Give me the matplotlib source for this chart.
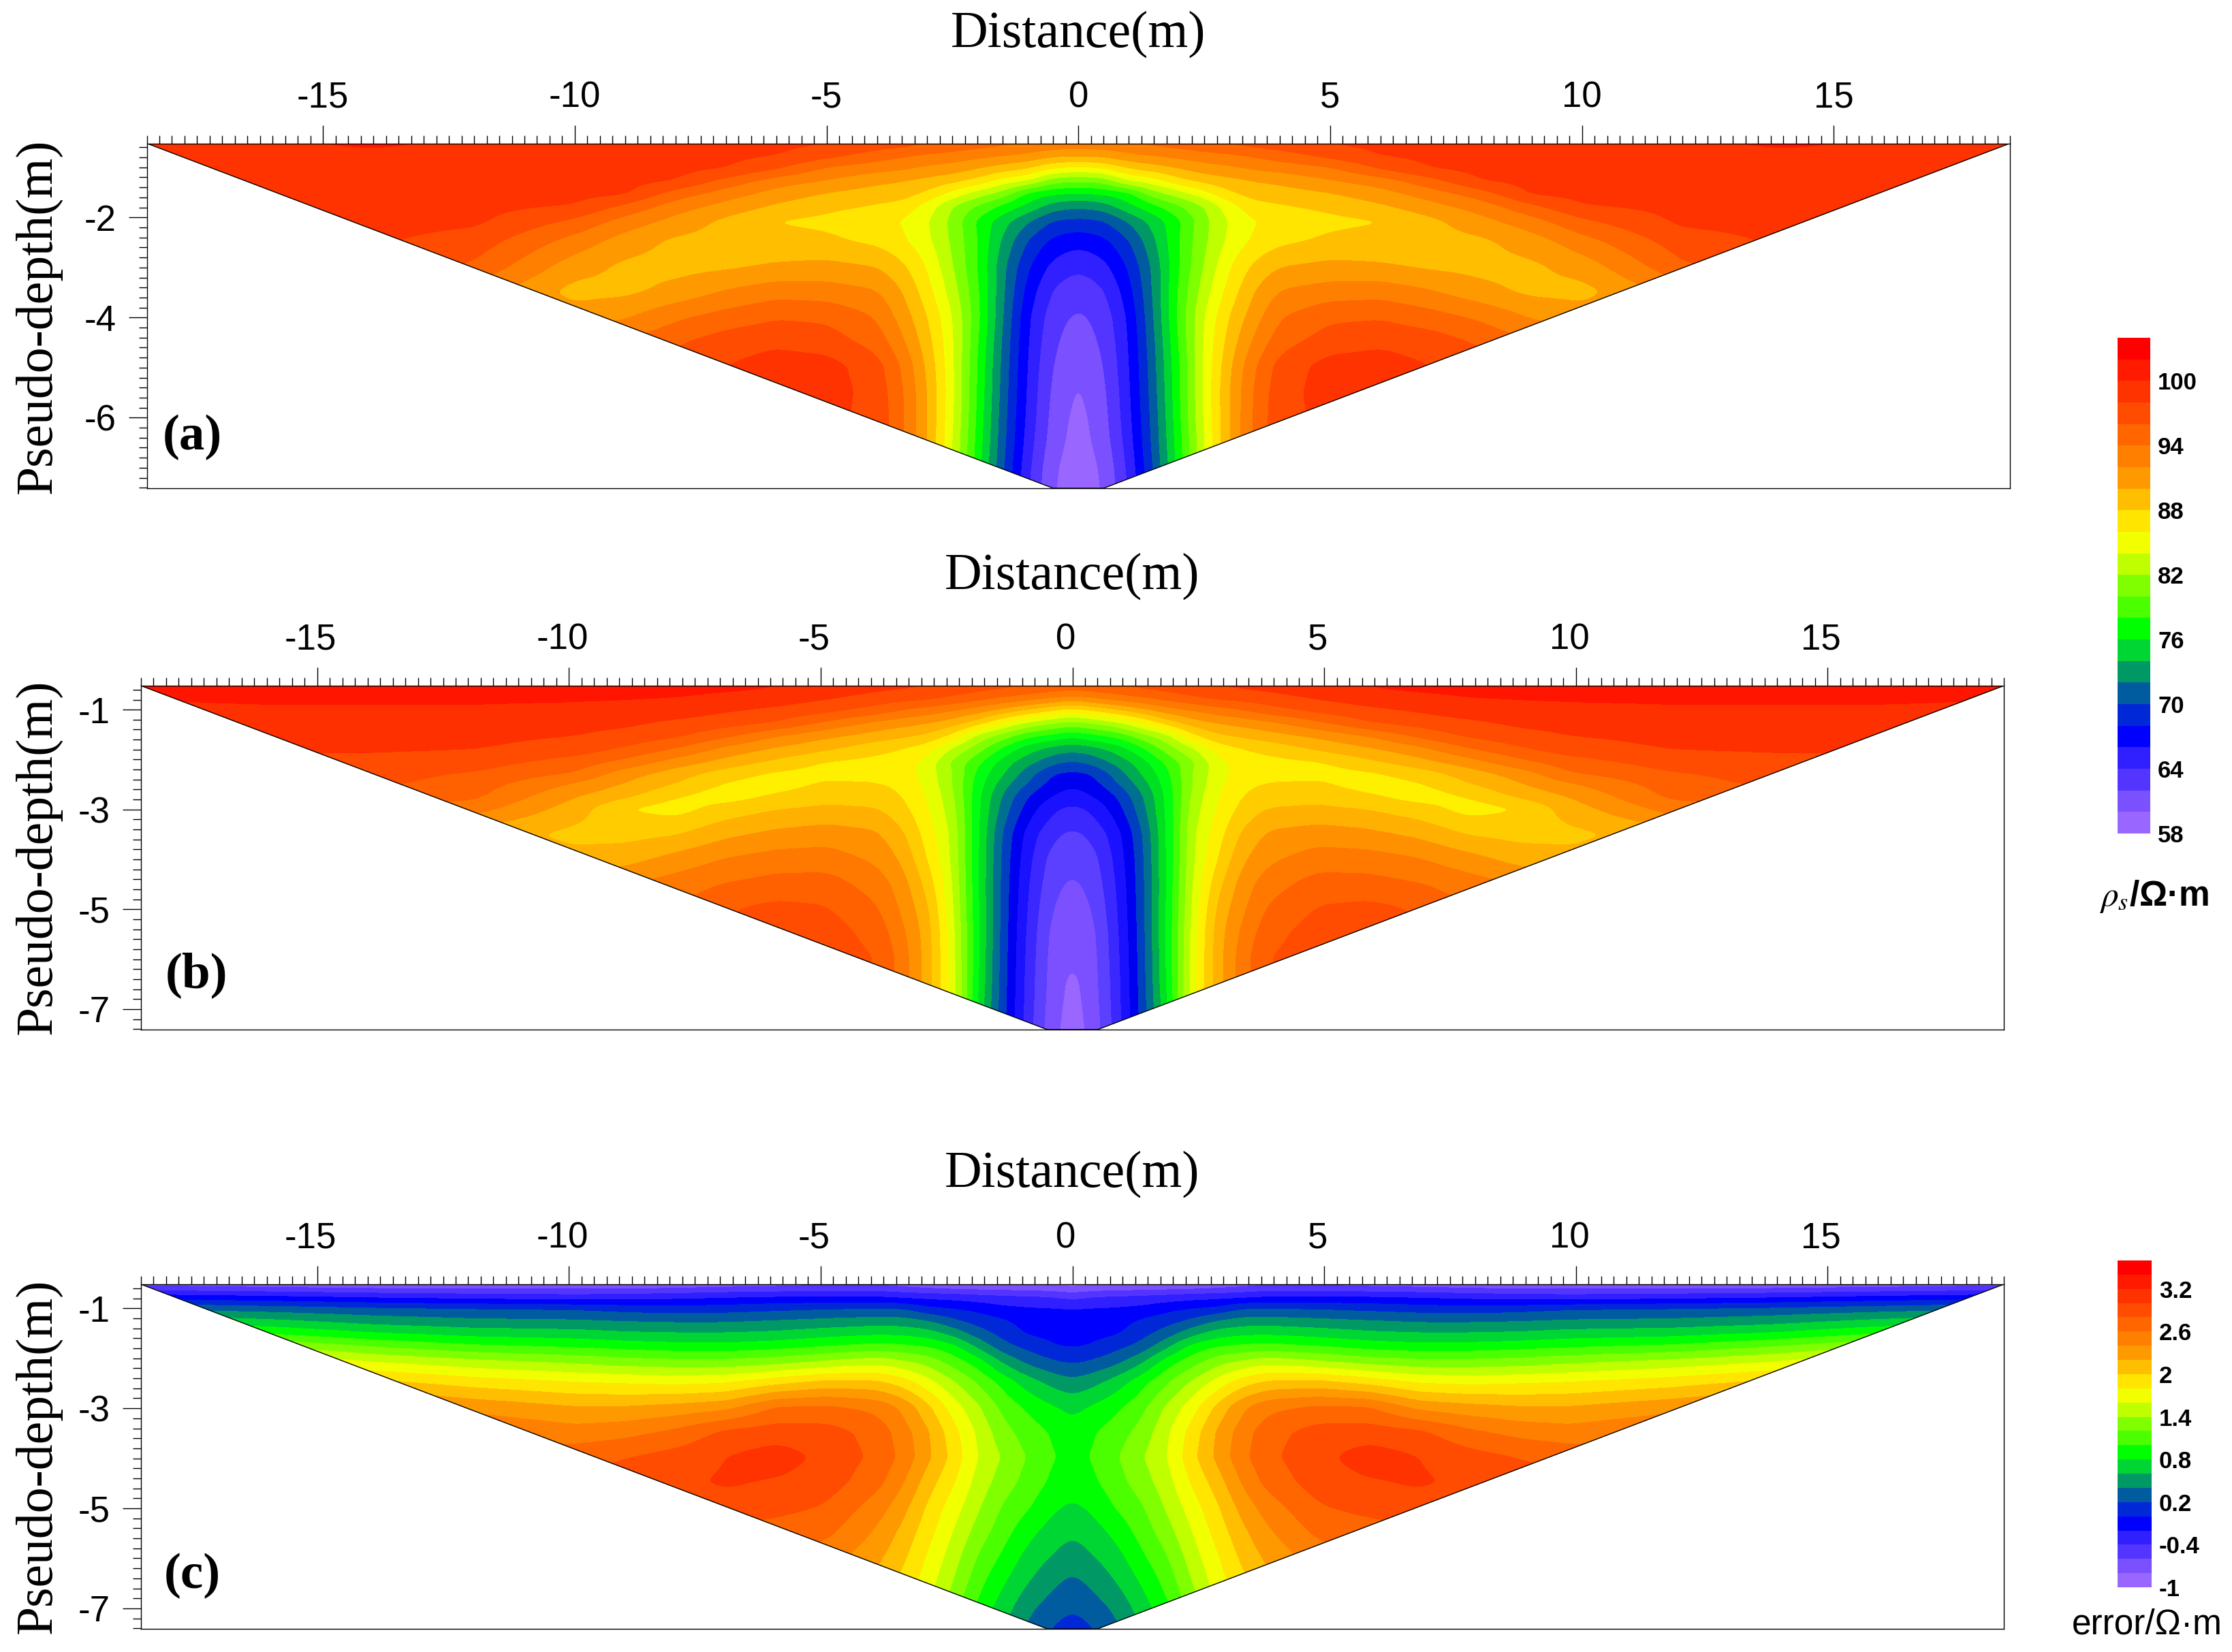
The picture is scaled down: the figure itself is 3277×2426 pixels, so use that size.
# Three pseudo-section contour panels (apparent resistivity and error) with band legends

import numpy as np
import matplotlib
matplotlib.use("Agg")
import matplotlib.pyplot as plt
from matplotlib.colors import ListedColormap, BoundaryNorm
from matplotlib.patches import Polygon
from matplotlib.ticker import FixedLocator
from matplotlib.transforms import ScaledTranslation

# ---- Data (right half of each section, mirrored when drawn) ----
depth = [-0.52, -0.77, -1.02, -1.27, -1.52, -1.77, -2.07, -2.47, -2.97,
         -3.47, -3.97, -4.47, -4.97, -5.47, -5.97, -6.47, -6.97, -7.41]
depth_b = [-0.52, -0.77, -1.02, -1.27, -1.52, -1.77, -2.07, -2.27, -2.47, -2.72, -2.97,
           -3.47, -3.97, -4.47, -4.97, -5.47, -5.97, -6.47, -6.97, -7.41]
x_a = [0, 0.5, 1, 1.5, 2, 2.5, 3, 3.5, 4, 5, 6, 7, 8, 9, 10, 12, 14, 16, 18.5]
x_bc = [0, 0.38, 0.88, 1.38, 1.88, 2.38, 2.88, 3.38, 3.88, 4.88, 5.88, 6.88, 7.88, 8.88, 9.88, 11.9, 13.9, 15.9, 18.5]

rho_a = [
    [93.3, 93.5, 93.8, 94.5, 95, 95.7, 96.2, 96.8, 97.2, 98.1, 98.5, 98.8, 99, 99.2, 99.3, 99.7, 100.3, 99.8, 99.3],
    [90.1, 90.4, 91.5, 92, 92.6, 93.1, 93.6, 94.2, 95, 96.6, 98, 98.5, 98.9, 99, 99.1, 99.3, 99.5, 99.4, 99],
    [85.4, 86, 88, 89, 90, 91.1, 91.5, 92.3, 92.7, 93.7, 96.2, 98, 98.6, 98.9, 99.1, 99.3, 99.4, 99.4, 99],
    [80.2, 80.6, 84, 85, 87.3, 88.5, 89.4, 90, 90.5, 91.8, 93, 95.3, 98, 98.6, 98.9, 99.2, 99.4, 99.3, 99],
    [75.8, 76.3, 77.3, 81.2, 83, 85.3, 87.6, 88.9, 89, 89.9, 91.2, 93, 95.1, 98.3, 98.6, 99, 99.1, 99, 98.8],
    [72.4, 73, 75.5, 77.5, 79.8, 82, 85.2, 87.3, 87.8, 88.5, 89.7, 91.3, 93, 95.6, 97.9, 98.6, 98.8, 98.7, 98.5],
    [69.4, 69.8, 72.2, 74.8, 77.6, 81.4, 84.2, 85.9, 86.8, 87.5, 87.9, 89.5, 91.3, 93.2, 95.6, 98.4, 98.7, 98.5, 98.3],
    [66.6, 67.4, 69.8, 73.6, 78, 81.6, 84.5, 86.4, 87.5, 88.4, 88.8, 89.2, 89.6, 91, 93.2, 97.1, 98.3, 98.3, 98.3],
    [64.3, 65.3, 68.2, 72.5, 78, 82.1, 85.8, 88.4, 89.9, 90.5, 90.2, 89.6, 89.3, 89.6, 90.9, 95.7, 97.5, 98, 98],
    [62.7, 63.7, 67.1, 72.3, 78.4, 83, 86.8, 90, 92.1, 92.9, 93.1, 92.1, 90.6, 89.5, 89.3, 93, 95, 96, 97],
    [61.6, 62.8, 66.2, 72, 78.6, 84, 88, 91.1, 93.8, 95.5, 95.7, 94.7, 93.5, 91.7, 90.9, 91.5, 93, 95, 96],
    [60.8, 62.3, 65.9, 71.6, 78.2, 84.3, 88.8, 92.4, 95.1, 97, 97.6, 97, 95.6, 94, 93, 93, 94, 95, 96],
    [60, 61.8, 65.7, 71.3, 77.8, 84.4, 89.6, 93.8, 96.8, 98.8, 98.9, 98, 97, 96, 95, 95, 95, 95, 96],
    [59.6, 61.4, 65.5, 71.1, 77.7, 84.5, 90, 94.3, 97.2, 98.9, 99, 98, 97, 96, 96, 96, 96, 96, 96],
    [59.3, 61.1, 65.3, 70.8, 77.5, 84.3, 90, 94.4, 97.4, 98.5, 98.5, 98, 97, 96, 96, 96, 96, 96, 96],
    [59.1, 60.8, 64.9, 70.6, 77.2, 84, 90, 94.4, 97.4, 98, 98, 98, 97, 96, 96, 96, 96, 96, 96],
    [58.9, 60.2, 64.4, 70.2, 76.8, 84, 90, 94.4, 97.4, 98, 98, 98, 97, 96, 96, 96, 96, 96, 96],
    [58.7, 60, 64, 69.8, 76.4, 84, 90, 94.4, 97.4, 97, 98, 98, 97, 96, 96, 96, 96, 96, 96],
]

rho_b = [
    [99.4, 99.6, 100.1, 100.6, 101.1, 101.6, 102.1, 102.4, 102.7, 103.4, 104.1, 104.6, 104.9, 105, 105.1, 105.2, 105.2, 105, 104.5],
    [95.05, 96, 96.9, 97.8, 98.7, 99.6, 100.4, 100.7, 101.2, 102.2, 103, 103.4, 103.9, 104.1, 104.2, 104.3, 104.3, 104.3, 104],
    [88.8, 89.9, 91.5, 93.1, 94.9, 96, 97, 97.8, 99, 100.5, 101.5, 102.2, 103.1, 103.3, 103.5, 103.7, 103.7, 103.7, 103.7],
    [83.1, 83.9, 85.4, 87.9, 90.7, 92.9, 94, 94.7, 95.4, 97.5, 99.8, 100.8, 101.5, 102.4, 102.7, 103, 103, 103, 103],
    [78.4, 79.45, 80.5, 83.1, 85.4, 89.5, 91.6, 92.4, 93.1, 94.5, 96.1, 98.5, 100.4, 101.3, 102, 102.5, 102.8, 102.8, 102.8],
    [74.7, 75.3, 76.9, 79.6, 83, 85.8, 89, 90, 90.7, 92.4, 93.8, 95.5, 98, 99.8, 101.2, 102.1, 102.3, 102.3, 102.3],
    [71.4, 72.3, 74.4, 76.9, 80.4, 83.4, 87.2, 89, 89.2, 89.7, 91.3, 93, 94.9, 97.2, 98.9, 100.9, 101.3, 101.3, 101.3],
    [69.6, 70, 72.9, 76.2, 79.4, 84.2, 87, 89.2, 89.4, 89.3, 89.7, 91, 93, 95, 97.9, 99.8, 100.8, 100.8, 100.8],
    [68.2, 69.1, 71.8, 75, 79, 84, 87.4, 89.4, 90, 90.2, 89, 89.9, 92, 93.9, 95.9, 99.1, 100.5, 100.5, 100.5],
    [67.2, 67.9, 70, 73.7, 78.5, 84.5, 87.8, 90, 91, 91.2, 90.2, 88.9, 90.2, 92.5, 94.2, 98.5, 99, 99.7, 100],
    [65.5, 66.3, 69, 73.1, 78.4, 84.9, 88.1, 90.6, 92, 92.3, 91.8, 90.7, 89.1, 90, 93, 97, 98, 99, 99.5],
    [63.6, 64.4, 67.1, 71.7, 78.2, 85.6, 89, 92.3, 94.2, 94.9, 94.4, 93.4, 91.7, 91.2, 91.5, 93, 95, 97, 99],
    [62.4, 63, 66.5, 71.3, 78.2, 85.7, 89.9, 93.6, 95.5, 96.9, 96.8, 96, 94.6, 93.1, 92.5, 93, 94, 96, 98],
    [61.7, 62.4, 66, 71.2, 78.1, 86.1, 91.2, 94.9, 97, 98.8, 98.7, 98, 96.9, 95.8, 95, 95, 95, 96, 98],
    [61.2, 61.7, 65.7, 71.1, 78.2, 86.4, 92.4, 95.6, 98.2, 100.1, 100.5, 99.8, 98, 97, 96, 96, 96, 97, 98],
    [60.7, 61.1, 65.4, 71, 78.3, 86.8, 93, 96.5, 99.2, 101, 101, 100, 99, 98, 97, 97, 97, 97, 98],
    [60, 60.9, 65.2, 70.9, 78.2, 87, 93.1, 97.1, 100, 101, 101, 100, 99, 98, 97, 97, 97, 97, 98],
    [59.4, 60.8, 65, 70.8, 78, 87.3, 93, 97.1, 100, 100, 100, 100, 99, 98, 97, 97, 97, 97, 98],
    [59.2, 60.6, 64.9, 70.7, 77.5, 87.3, 93, 97.1, 100, 98, 98, 98, 98, 98, 97, 97, 97, 97, 98],
    [59, 60.4, 64.7, 70.4, 77, 87.3, 93, 97.1, 100, 97, 98, 98, 98, 98, 97, 97, 97, 97, 98],
]

err_c = [
    [-0.9, -0.86, -0.83, -0.82, -0.81, -0.8, -0.75, -0.7, -0.65, -0.66, -0.7, -0.72, -0.75, -0.78, -0.75, -0.78, -0.78, -0.75, -0.7],
    [-0.48, -0.4, -0.38, -0.36, -0.33, -0.29, -0.27, -0.25, -0.2, -0.2, -0.2, -0.23, -0.27, -0.3, -0.33, -0.29, -0.24, -0.17, -0.1],
    [-0.19, -0.18, -0.17, -0.14, -0.05, 0.01, 0.06, 0.22, 0.22, 0.2, 0.16, 0.12, 0.1, 0.13, 0.19, 0.22, 0.26, 0.32, 0.4],
    [-0.13, -0.12, -0.09, 0.04, 0.12, 0.26, 0.43, 0.5, 0.51, 0.47, 0.43, 0.39, 0.39, 0.41, 0.44, 0.46, 0.53, 0.66, 0.8],
    [-0.07, -0.05, -0.02, 0.13, 0.31, 0.55, 0.71, 0.77, 0.78, 0.73, 0.66, 0.63, 0.63, 0.65, 0.7, 0.74, 0.84, 1, 1.1],
    [-0.02, 0.01, 0.14, 0.27, 0.56, 0.87, 1, 1.05, 1.08, 1.01, 0.93, 0.88, 0.89, 0.93, 0.98, 1.05, 1.2, 1.4, 1.5],
    [0.16, 0.22, 0.34, 0.56, 0.9, 1.11, 1.32, 1.44, 1.52, 1.43, 1.32, 1.26, 1.26, 1.29, 1.36, 1.46, 1.6, 1.8, 1.9],
    [0.44, 0.52, 0.68, 0.92, 1.17, 1.42, 1.67, 1.9, 2.03, 2.05, 1.92, 1.77, 1.74, 1.77, 1.8, 1.9, 2.05, 2.2, 2.3],
    [0.73, 0.81, 0.95, 1.13, 1.43, 1.7, 2.05, 2.36, 2.54, 2.63, 2.61, 2.33, 2.26, 2.21, 2.21, 2.33, 2.5, 2.6, 2.6],
    [0.87, 0.97, 1.1, 1.27, 1.56, 1.88, 2.23, 2.5, 2.72, 2.88, 2.9, 2.84, 2.64, 2.53, 2.48, 2.6, 2.7, 2.7, 2.7],
    [0.95, 1, 1.18, 1.38, 1.59, 1.94, 2.25, 2.55, 2.75, 2.94, 3.1, 3, 2.88, 2.79, 2.72, 2.7, 2.7, 2.7, 2.7],
    [0.88, 0.95, 1.12, 1.3, 1.52, 1.83, 2.1, 2.43, 2.67, 2.9, 2.98, 3.03, 2.95, 2.9, 2.85, 2.8, 2.8, 2.8, 2.8],
    [0.76, 0.83, 1.02, 1.17, 1.43, 1.7, 1.97, 2.28, 2.5, 2.78, 2.87, 2.9, 2.9, 2.9, 2.9, 2.9, 2.9, 2.9, 2.9],
    [0.62, 0.7, 0.86, 1.08, 1.31, 1.6, 1.88, 2.15, 2.37, 2.65, 2.7, 2.8, 2.8, 2.8, 2.8, 2.8, 2.8, 2.8, 2.8],
    [0.49, 0.58, 0.72, 0.96, 1.18, 1.5, 1.78, 2.05, 2.25, 2.5, 2.6, 2.7, 2.7, 2.7, 2.7, 2.7, 2.7, 2.7, 2.7],
    [0.34, 0.44, 0.6, 0.82, 1.07, 1.4, 1.7, 1.95, 2.15, 2.4, 2.5, 2.6, 2.6, 2.6, 2.6, 2.6, 2.6, 2.6, 2.6],
    [0.21, 0.3, 0.45, 0.7, 0.95, 1.3, 1.6, 1.85, 2.05, 2.3, 2.4, 2.5, 2.5, 2.5, 2.5, 2.5, 2.5, 2.5, 2.5],
    [0.1, 0.18, 0.35, 0.6, 0.85, 1.2, 1.5, 1.8, 2, 2.2, 2.3, 2.4, 2.4, 2.4, 2.4, 2.4, 2.4, 2.4, 2.4],
]

band_colors = ['#9966ff', '#7a50ff', '#5335ff', '#3020ff', '#0000ff', '#0028d6', '#005c9e', '#009966',
               '#00d633', '#00ff00', '#4cff00', '#80ff00', '#bfff00', '#f2ff00', '#ffe500', '#ffbf00',
               '#ff9900', '#ff7f00', '#ff6600', '#ff4c00', '#ff3300', '#ff1a00', '#ff0000']
# panel (b) was drawn with finer bands, so it carries one extra colour
band_colors_b = ['#9966ff', '#7c50ff', '#5c40ff', '#3b28ff', '#1a12ff', '#0000f0', '#0040c0', '#007090',
                 '#00aa50', '#00e020', '#00ff10', '#40ff00', '#80ff00', '#b0ff00', '#e6ff00', '#fff000',
                 '#ffcc00', '#ffb000', '#ff9000', '#ff7800', '#ff6000', '#ff4c00', '#ff3000', '#ff1500']

levels_rho = np.arange(58, 105, 2)
levels_rho_b = np.arange(58, 107, 2)
levels_err = np.linspace(-1, 3.6, 24)

rho_ticks = [58, 64, 70, 76, 82, 88, 94, 100]
rho_ticklabels = ['58', '64', '70', '76', '82', '88', '94', '100']
err_ticks = [-1, -0.4, 0.2, 0.8, 1.4, 2, 2.6, 3.2]
err_ticklabels = ['-1', '-0.4', '0.2', '0.8', '1.4', '2', '2.6', '3.2']

# ---- Figure, laid out in reference pixels ----
W, H = 3277, 2426
SERIF = 'Liberation Serif'
SANS = 'Liberation Sans'
plt.rcParams['font.family'] = SANS
plt.rcParams['mathtext.fontset'] = 'stix'
plt.rcParams['axes.unicode_minus'] = False
fig = plt.figure(figsize=(W / 100, H / 100), dpi=100)


def px_axes(left, top, right, bottom):
    return fig.add_axes([left / W, 1 - bottom / H, (right - left) / W, (bottom - top) / H])


def soften(field, half, axis):
    # two passes of a box filter, only to round the kinks between the read grid lines
    kernel = np.ones(2 * half + 1) / (2 * half + 1)
    def run(line):
        padded = np.pad(line, half, mode='edge')
        return np.convolve(padded, kernel, mode='valid')
    return np.apply_along_axis(run, axis, np.apply_along_axis(run, axis, field))


def section(box, xs, ds, values, levels, colors, yticks, letter, letter_xy, label_shift, xlabel_xy, ylabel_xy):
    ax = px_axes(*box)
    xs = np.array(xs)
    vals = np.array(values)
    xx = np.concatenate([-xs[:0:-1], xs])
    zz = np.hstack([vals[:, :0:-1], vals])
    top_d, bot_d = -0.52, -7.41
    outline = [(-18.5, top_d), (18.5, top_d), (0.5, bot_d), (-0.5, bot_d)]

    # fine display grid for the contour fill
    fx = np.linspace(-18.5, 18.5, 741)
    fy = np.linspace(bot_d, top_d, 346)
    by_x = np.array([np.interp(fx, xx, row) for row in zz])
    ds_up = np.array(ds)[::-1]
    fine = np.array([np.interp(fy, ds_up, col[::-1]) for col in by_x.T]).T
    fine = soften(soften(fine, 3, 1), 3, 0)
    fine = np.clip(fine, levels[0] + 1e-3, levels[-1] - 1e-3)
    cs = ax.contourf(fx, fy, fine, levels=levels, colors=colors)
    clip = Polygon(outline, closed=True, transform=ax.transData, fc='none', ec='none')
    ax.add_patch(clip)
    cs.set_clip_path(clip)
    ax.add_patch(Polygon(outline, closed=True, fill=False, ec='black', lw=1.0, zorder=5))

    ax.set_xlim(-18.5, 18.5)
    ax.set_ylim(bot_d, top_d)
    ax.xaxis.tick_top()
    ax.set_xticks([-15, -10, -5, 0, 5, 10, 15])
    ax.xaxis.set_minor_locator(FixedLocator(np.arange(-18.5, 18.51, 0.25)))
    ax.set_yticks(yticks)
    ax.yaxis.set_minor_locator(FixedLocator(np.arange(-7.4, -0.5, 0.2)))
    ax.tick_params(axis='x', which='major', length=19.5, width=1.0, pad=11, labelsize=38)
    ax.tick_params(axis='x', which='minor', length=9, width=1.0)
    ax.tick_params(axis='y', which='major', length=19.5, width=1.0, pad=13, labelsize=38)
    ax.tick_params(axis='y', which='minor', length=9, width=1.0)
    for spine in ax.spines.values():
        spine.set_linewidth(1.0)
    shift = ScaledTranslation(label_shift / 100, 0, fig.dpi_scale_trans)
    for lab in ax.get_xticklabels():
        lab.set_transform(lab.get_transform() + shift)

    ax.text(letter_xy[0], letter_xy[1], letter, transform=None, family=SERIF, weight='bold',
            fontsize=54, ha='center', va='center')
    fig.text(xlabel_xy[0] / W, 1 - xlabel_xy[1] / H, 'Distance(m)', family=SERIF, fontsize=54.5,
             ha='center', va='center')
    fig.text(ylabel_xy[0] / W, 1 - ylabel_xy[1] / H, 'Pseudo-depth(m)', family=SERIF, fontsize=54.5,
             rotation=90, ha='center', va='center')
    return ax


def legend_bar(box, levels, colors, ticks, ticklabels):
    ax = px_axes(*box)
    cmap = ListedColormap(colors)
    norm = BoundaryNorm(levels, cmap.N)
    centers = (np.array(levels[:-1]) + np.array(levels[1:])) / 2
    ax.pcolormesh([0, 1], levels, centers[:, None], cmap=cmap, norm=norm, antialiased=False)
    ax.set_ylim(levels[0], levels[-1])
    ax.set_xticks([])
    ax.yaxis.tick_right()
    ax.set_yticks(ticks)
    ax.set_yticklabels(ticklabels, weight='bold', fontsize=25)
    ax.tick_params(axis='y', length=0, pad=8)
    for spine in ax.spines.values():
        spine.set_visible(False)
    return ax


section((215.5, 210.5, 2951, 717), x_a, depth, rho_a, levels_rho, band_colors, [-2, -4, -6],
        '(a)', (282, H - 642), 0, (1583, 50), (56, 464))
section((207, 1007, 2942, 1512), x_bc, depth_b, rho_b, levels_rho_b, band_colors_b, [-1, -3, -5, -7],
        '(b)', (288, H - 1432), -9.5, (1574, 846), (56, 1258))
section((207, 1886, 2942, 2392), x_bc, depth, err_c, levels_err, band_colors, [-1, -3, -5, -7],
        '(c)', (282, H - 2314), -9.5, (1574, 1724), (56, 2138))

legend_bar((3109, 496, 3157, 1224), levels_rho, band_colors, rho_ticks, rho_ticklabels)
legend_bar((3109, 1851, 3159, 2331), levels_err, band_colors, err_ticks, err_ticklabels)

fig.text(3163 / W, 1 - 1317 / H, r'$\rho_s$/Ω·m', fontsize=37, weight='bold', ha='center', va='center')
fig.text(3152 / W, 1 - 2386 / H, 'error/Ω·m', fontsize=37, ha='center', va='center')

fig.savefig('out.png', dpi=100)
plt.close(fig)
